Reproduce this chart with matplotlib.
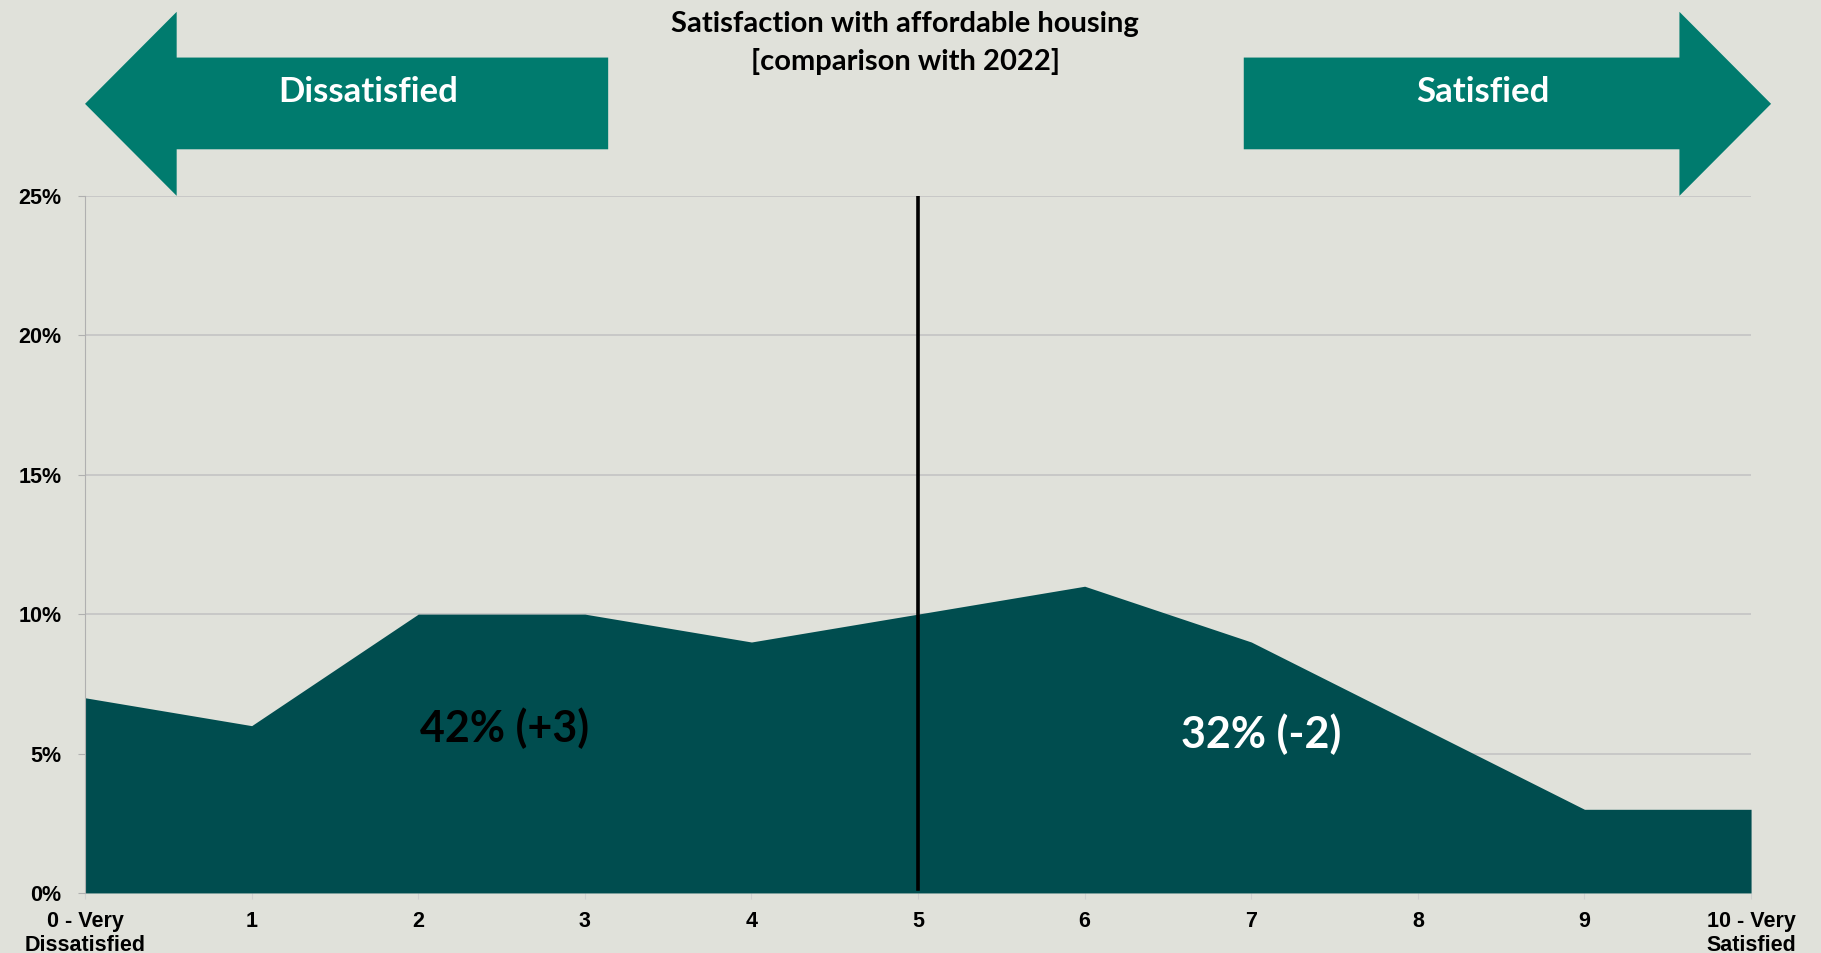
import matplotlib
matplotlib.use("Agg")
import matplotlib.pyplot as plt
from matplotlib.patches import Polygon

# === Data ===
scores = list(range(11))
tick_labels = ["0 - Very\nDissatisfied", "1", "2", "3", "4", "5", "6", "7", "8", "9", "10 - Very\nSatisfied"]
share = [7, 6, 10, 10, 9, 10, 11, 9, 6, 3, 3]
y_ticks = [0, 5, 10, 15, 20, 25]
dissatisfied_label = "42% (+3)"
satisfied_label = "32% (-2)"

bg = "#e0e1da"
area_col = "#004d4f"
arrow_col = "#007b6e"
title_font = ["Lato", "DejaVu Sans"]
tick_font = ["Liberation Sans Narrow", "Liberation Sans", "DejaVu Sans"]

fig = plt.figure(figsize=(18.21, 9.531), dpi=100, facecolor=bg)
ax = fig.add_axes([0.0467, 0.063, 0.9149, 0.7314], facecolor=bg)

ax.fill_between(scores, share, 0, color=area_col, linewidth=0, zorder=2)
ax.axvline(5, ymin=0.005, ymax=1, color="black", linewidth=2.6, zorder=3)

ax.set_xlim(0, 10)
ax.set_ylim(0, 25)
ax.set_yticks(y_ticks)
ax.set_yticklabels([f"{v}%" for v in y_ticks], fontfamily=tick_font,
                   fontweight="bold", fontsize=15.5)
ax.set_xticks(scores)
ax.set_xticklabels(tick_labels, fontfamily=tick_font, fontweight="bold",
                   fontsize=15.5, linespacing=1.15)
ax.grid(axis="y", color="#c4c4c4", linewidth=1.2, zorder=1)
for side in ["top", "right", "bottom"]:
    ax.spines[side].set_visible(False)
ax.spines["left"].set_color("#b0b0b0")
ax.tick_params(axis="y", length=5, color="#b0b0b0", pad=12)
ax.tick_params(axis="x", length=4, color="#d0d0d0", pad=9, direction="out")

# direction arrows above the plot
left_arrow = [(0, 28.3), (0.55, 31.6), (0.55, 29.96), (3.14, 29.96),
              (3.14, 26.67), (0.55, 26.67), (0.55, 25)]
right_arrow = [(10.12, 28.3), (9.57, 31.6), (9.57, 29.96), (6.955, 29.96),
               (6.955, 26.67), (9.57, 26.67), (9.57, 25)]
for pts in [left_arrow, right_arrow]:
    ax.add_patch(Polygon(pts, closed=True, facecolor=arrow_col,
                         edgecolor="none", clip_on=False, zorder=4))
ax.text(1.70, 28.72, "Dissatisfied", color="white", fontsize=25,
        fontweight="bold", fontfamily=title_font, ha="center", va="center", zorder=5)
ax.text(8.39, 28.72, "Satisfied", color="white", fontsize=25,
        fontweight="bold", fontfamily=title_font, ha="center", va="center", zorder=5)

fig.text(0.497, 0.988, "Satisfaction with affordable housing\n[comparison with 2022]",
         ha="center", va="top", fontsize=21, fontweight="bold",
         fontfamily=title_font, linespacing=1.5)

ax.text(2.52, 5.9, dissatisfied_label, color="black", fontsize=31,
        fontweight="bold", fontfamily=title_font, ha="center", va="center", zorder=5)
ax.text(7.06, 5.7, satisfied_label, color="white", fontsize=31,
        fontweight="bold", fontfamily=title_font, ha="center", va="center", zorder=5)

fig.savefig("out.png", dpi=100, facecolor=bg)
